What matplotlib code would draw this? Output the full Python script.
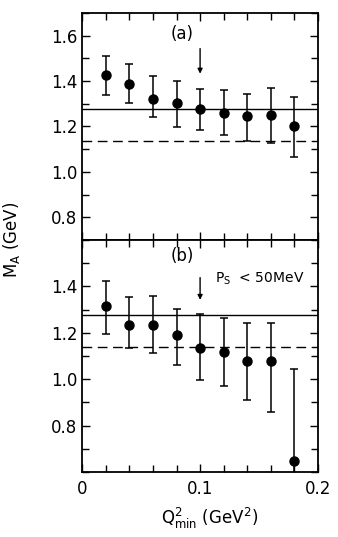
"""Fitted axial mass M_A versus the minimum Q^2 cut, two panels."""
import numpy as np
from matplotlib import pyplot as plt
from matplotlib.ticker import MultipleLocator

# panel (a): all events
q2_min = [0.02, 0.04, 0.06, 0.08, 0.10, 0.12, 0.14, 0.16, 0.18]
ma_a = [1.427, 1.388, 1.319, 1.302, 1.279, 1.261, 1.244, 1.251, 1.204]
ma_a_hi = [1.509, 1.473, 1.420, 1.400, 1.365, 1.359, 1.345, 1.368, 1.329]
ma_a_lo = [1.338, 1.303, 1.241, 1.199, 1.185, 1.163, 1.134, 1.129, 1.064]

# panel (b): spectator momentum cut P_S < 50 MeV
ma_b = [1.316, 1.235, 1.235, 1.189, 1.136, 1.116, 1.080, 1.080, 0.647]
ma_b_hi = [1.422, 1.353, 1.358, 1.301, 1.281, 1.266, 1.244, 1.244, 1.043]
ma_b_lo = [1.193, 1.136, 1.112, 1.062, 0.997, 0.969, 0.909, 0.860, 0.400]

solid_ref = 1.277
dashed_ref = 1.137
arrow_q2 = 0.10

plt.rcParams['font.family'] = ['DejaVu Sans']

fig = plt.figure(figsize=(3.38, 5.37), dpi=100)
ax_a = fig.add_axes([0.243, 0.553, 0.698, 0.423])
ax_b = fig.add_axes([0.243, 0.121, 0.698, 0.432], sharex=ax_a)


def draw_panel(ax, y, hi, lo, ylim, yticks, label, label_y, arrow_top, arrow_tip):
    y = np.array(y)
    err = [y - np.array(lo), np.array(hi) - y]
    ax.errorbar(q2_min, y, yerr=err, fmt='o', color='black', ms=6.5,
                elinewidth=1.1, capsize=3, capthick=1.1, clip_on=True)
    ax.axhline(solid_ref, color='black', lw=1.0)
    ax.axhline(dashed_ref, color='black', lw=1.0, dashes=(7, 4))
    ax.annotate('', xy=(arrow_q2, arrow_tip), xytext=(arrow_q2, arrow_top),
                arrowprops=dict(arrowstyle='-|>', color='black', lw=1.0,
                                mutation_scale=7))
    ax.text(0.085, label_y, label, ha='center', va='center', fontsize=12)
    ax.set_ylim(*ylim)
    ax.set_yticks(yticks)
    ax.set_yticklabels([f'{t:.1f}' for t in yticks], fontsize=12)
    ax.yaxis.set_minor_locator(MultipleLocator(0.1))
    ax.set_xlim(0, 0.2)
    ax.xaxis.set_major_locator(MultipleLocator(0.1))
    ax.xaxis.set_minor_locator(MultipleLocator(0.02))
    ax.tick_params(which='both', direction='in', top=True, right=True,
                   width=1.0, labelsize=12)
    ax.tick_params(which='major', length=6)
    ax.tick_params(which='minor', length=5)
    for side in ax.spines.values():
        side.set_linewidth(1.3)


draw_panel(ax_a, ma_a, ma_a_hi, ma_a_lo, (0.7, 1.7),
           [0.8, 1.0, 1.2, 1.4, 1.6], '(a)', 1.605, 1.555, 1.42)
draw_panel(ax_b, ma_b, ma_b_hi, ma_b_lo, (0.6, 1.6),
           [0.8, 1.0, 1.2, 1.4], '(b)', 1.53, 1.45, 1.33)

ax_a.tick_params(labelbottom=False)
ax_b.set_xticks([0, 0.1, 0.2])
ax_b.set_xticklabels(['0', '0.1', '0.2'], fontsize=12)
ax_b.tick_params(axis='x', pad=6)
ax_b.text(0.113, 1.435, r'P$_{\rm S}$  < 50MeV', ha='left', va='center',
          fontsize=10)

fig.text(0.62, 0.035, r'Q$^{2}_{\rm min}$ (GeV$^{2}$)', ha='center',
         va='center', fontsize=12)
fig.text(0.035, 0.553, r'M$_{\rm A}$ (GeV)', rotation=90, ha='center',
         va='center', fontsize=12)

fig.savefig('out.png', dpi=100)
